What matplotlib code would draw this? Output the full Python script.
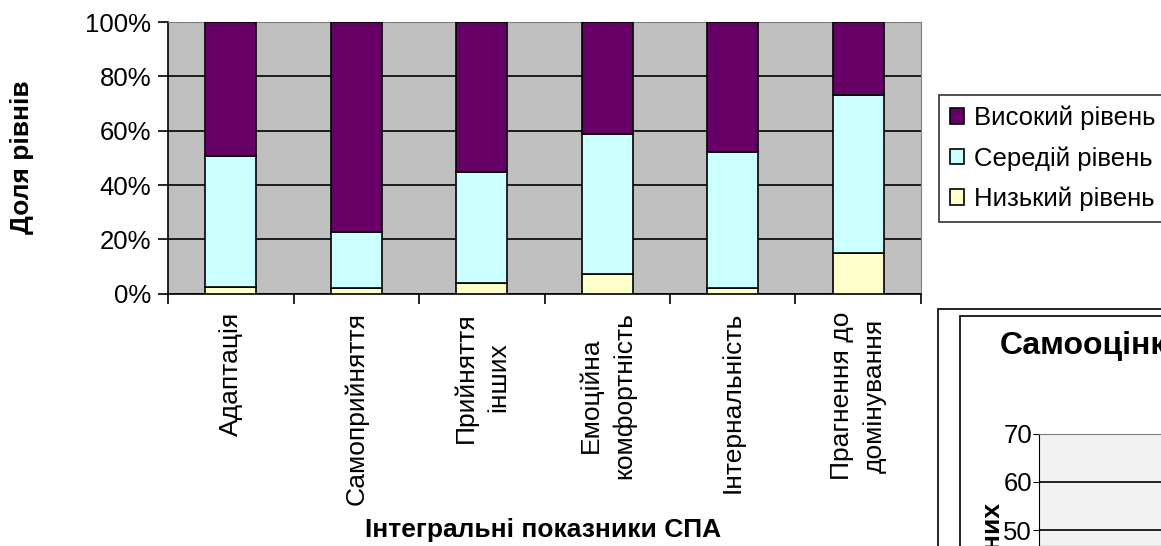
import matplotlib.pyplot as plt
from matplotlib.patches import Rectangle
from matplotlib.ticker import PercentFormatter
import numpy as np

plt.rcParams['font.family'] = ['Liberation Sans', 'DejaVu Sans']

categories = ['Адаптація', 'Самоприйняття', 'Прийняття\nінших', 'Емоційна\nкомфортність',
              'Інтернальність', 'Прагнення до\nдомінування']
low = [2.5, 2.0, 3.8, 7.1, 2.0, 15.0]
mid = [48.3, 20.7, 41.1, 51.6, 50.2, 58.1]
high = [49.2, 77.3, 55.1, 41.3, 47.8, 26.9]
level_names = ['Низький рівень', 'Середій рівень', 'Високий рівень']
level_colors = ['#ffffcc', '#ccffff', '#660066']

W, H = 1161, 546
fig = plt.figure(figsize=(W / 100, H / 100), dpi=100)

# main stacked chart
ax = fig.add_axes([168 / W, 1 - 293.7 / H, (921 - 168) / W, (293.7 - 22) / H])
ax.set_facecolor('#c0c0c0')
x = np.arange(len(categories))
bottom = np.zeros(len(categories))
bars = []
for vals, name, col in zip([low, mid, high], level_names, level_colors):
    b = ax.bar(x, vals, 0.41, bottom=bottom, color=col, edgecolor='black', linewidth=1.2,
               label=name, zorder=3)
    bars.append(b)
    bottom += np.array(vals)

ax.set_xlim(-0.5, len(categories) - 0.5)
ax.set_ylim(0, 100)
ax.set_yticks(range(0, 101, 20))
ax.yaxis.set_major_formatter(PercentFormatter(decimals=0))
ax.grid(axis='y', color='black', linewidth=1.2, zorder=1)
ax.set_xticks(x)
ax.set_xticklabels(categories, rotation=90, va='top', ha='center', fontsize=19,
                   linespacing=1.45)
ax.set_xticks(np.arange(-0.5, len(categories)), minor=True)
ax.tick_params(axis='x', which='major', length=0, pad=13)
ax.tick_params(axis='x', which='minor', length=7, width=1.2, direction='out')
ax.tick_params(axis='y', length=7, width=1.2, labelsize=18.5, pad=5)
for s in ['top', 'right']:
    ax.spines[s].set_color('#808080')
for s in ['left', 'bottom']:
    ax.spines[s].set_color('black')
    ax.spines[s].set_linewidth(1.2)

fig.text(22 / W, 1 - 157 / H, 'Доля рівнів', rotation=90, ha='center', va='center',
         fontsize=19, fontweight='bold')
fig.text(543 / W, 1 - 530 / H, 'Інтегральні показники СПА', ha='center', va='center',
         fontsize=19, fontweight='bold')

handles = bars[::-1]
leg = fig.legend(handles, level_names[::-1], loc='upper left',
                 bbox_to_anchor=(939 / W, 1 - 95 / H), fontsize=18.5, frameon=True,
                 fancybox=False, edgecolor='black', handlelength=0.55, handleheight=0.55,
                 handletextpad=0.38, borderpad=0.42, labelspacing=0.62, borderaxespad=0)
leg.get_frame().set_linewidth(1.2)

# second chart peeking in at the bottom right
fig.patches.append(Rectangle((938 / W, -0.1), 0.2, 1 - 309 / H + 0.1, transform=fig.transFigure,
                             facecolor='white', edgecolor='black', linewidth=1.2, zorder=-2))
fig.patches.append(Rectangle((960 / W, -0.1), 0.2, 1 - 316 / H + 0.1, transform=fig.transFigure,
                             facecolor='white', edgecolor='black', linewidth=1.2, zorder=-1))
fig.text(1000 / W, 1 - 346 / H, 'Самооцінка', ha='left', va='center', fontsize=23,
         fontweight='bold')

ax2 = fig.add_axes([1039 / W, 0, 0.2, 1 - 434 / H])
ax2.set_facecolor('#f2f2f2')
ax2.set_ylim(70 - (546 - 434) / 4.8, 70)
ax2.set_yticks([50, 60, 70])
ax2.set_xticks([])
ax2.grid(axis='y', color='black', linewidth=1.2)
ax2.tick_params(axis='y', length=4, labelsize=18.5, pad=1)
ax2.spines['top'].set_color('#808080')
ax2.spines['left'].set_color('black')
fig.text(993 / W, 1 - 503 / H, 'Кількість досліджуваних', rotation=90, ha='center', va='top',
         fontsize=19, fontweight='bold')

fig.savefig('out.png', dpi=100)
